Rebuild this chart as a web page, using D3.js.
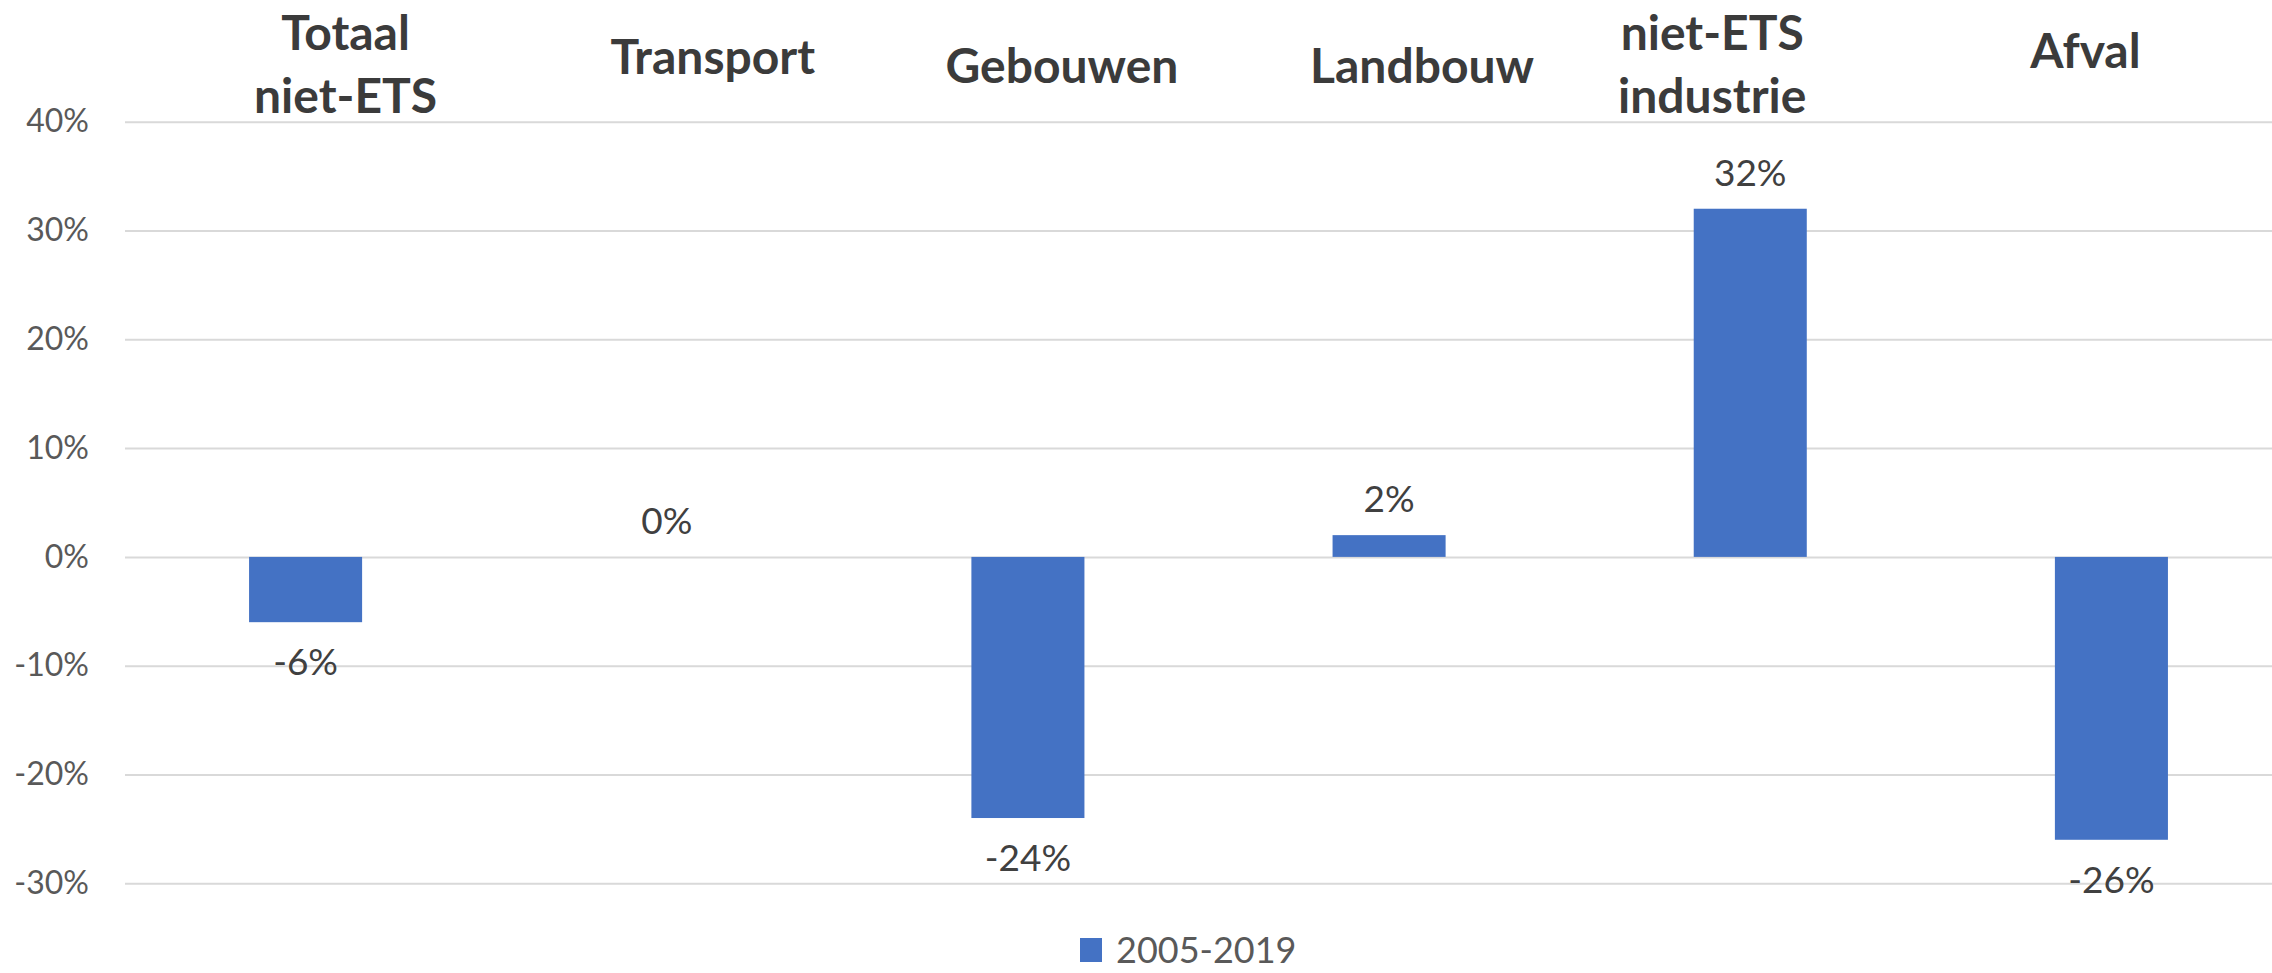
<!DOCTYPE html>
<html>
<head>
<meta charset="utf-8">
<script src="https://cdn.jsdelivr.net/npm/d3@7"></script>
<style>
  html, body { margin: 0; padding: 0; background: #fff; overflow: hidden; }
  svg { display: block; font-family: Lato, "Open Sans", sans-serif; }
</style>
</head>
<body>
<svg width="2272" height="973"></svg>
<script>
// data
const categories = ['Totaal\nniet-ETS', 'Transport', 'Gebouwen', 'Landbouw', 'niet-ETS\nindustrie', 'Afval'];
const values = [-0.06, 0, -0.24, 0.02, 0.32, -0.26];
const yTicks = [-0.3, -0.2, -0.1, 0, 0.1, 0.2, 0.3, 0.4];
const seriesName = '2005-2019';

const makeChart = () => {
  var svg = d3.select('svg'),
    left = 125,
    right = 2292,   // plot runs past the right edge, like the original crop
    top = 121.7,
    bottom = 883.3;

  var pct = d3.formatLocale({decimal: '.', thousands: ',', grouping: [3], currency: ['', ''], minus: '-'}).format('.0%');

  var x = d3.scaleBand()
    .domain(categories)
    .range([left, right])
    .paddingInner(0.687)
    .paddingOuter(0.3435);

  var y = d3.scaleLinear()
    .domain([-0.3, 0.4])
    .range([bottom, top]);

  // gridlines + tick labels
  var yAxis = svg.append('g')
    .attr('transform', `translate(${left},0)`)
    .call(d3.axisLeft(y)
      .tickValues(yTicks)
      .tickSizeInner(-(right - left))
      .tickSizeOuter(0)
      .tickPadding(36)
      .tickFormat(pct));

  yAxis.select('.domain').remove();
  yAxis.selectAll('.tick line')
    .attr('stroke', '#d9d9d9')
    .attr('stroke-width', 2);
  yAxis.selectAll('.tick text')
    .attr('fill', '#595959')
    .style('font-size', '32px')
    .style('font-family', 'Lato, sans-serif');

  var rows = categories.map((c, i) => ({cat: c, value: values[i]}));

  svg.selectAll('.bar')
    .data(rows)
    .enter()
    .append('rect')
    .attr('class', 'bar')
    .attr('x', d => x(d.cat))
    .attr('width', x.bandwidth())
    .attr('y', d => y(Math.max(0, d.value)))
    .attr('height', d => Math.abs(y(d.value) - y(0)))
    .attr('fill', '#4472c4');

  // data labels
  svg.selectAll('.val')
    .data(rows)
    .enter()
    .append('text')
    .attr('class', 'val')
    .attr('x', d => x(d.cat) + x.bandwidth() / 2)
    .attr('y', d => d.value >= 0 ? y(d.value) - 23 : y(d.value) + 53)
    .attr('text-anchor', 'middle')
    .attr('fill', '#404040')
    .style('font-size', '37px')
    .text(d => pct(d.value));

  // category titles sit above the plot, hand-nudged as in the original
  var nudge = {
    'Totaal\nniet-ETS': [40, 50],
    'Transport': [46, 74],
    'Gebouwen': [34, 83],
    'Landbouw': [33, 83],
    'niet-ETS\nindustrie': [-38, 50],
    'Afval': [-26, 68]
  };

  svg.selectAll('.cat')
    .data(categories)
    .enter()
    .append('text')
    .attr('class', 'cat')
    .attr('text-anchor', 'middle')
    .attr('fill', '#3b3b3b')
    .style('font-size', '48px')
    .style('font-weight', 'bold')
    .selectAll('tspan')
    .data(c => c.split('\n').map(line => ({c: c, line: line})))
    .enter()
    .append('tspan')
    .attr('x', d => x(d.c) + x.bandwidth() / 2 + nudge[d.c][0])
    .attr('y', (d, i) => nudge[d.c][1] + i * 63)
    .text(d => d.line);

  // legend
  var legend = svg.append('g')
    .attr('transform', 'translate(1080,938)');

  legend.append('rect')
    .attr('width', 22)
    .attr('height', 24)
    .attr('fill', '#4472c4');

  legend.append('text')
    .attr('x', 36)
    .attr('y', 25)
    .attr('fill', '#595959')
    .style('font-size', '36px')
    .text(seriesName);
};

makeChart();
</script>
</body>
</html>
